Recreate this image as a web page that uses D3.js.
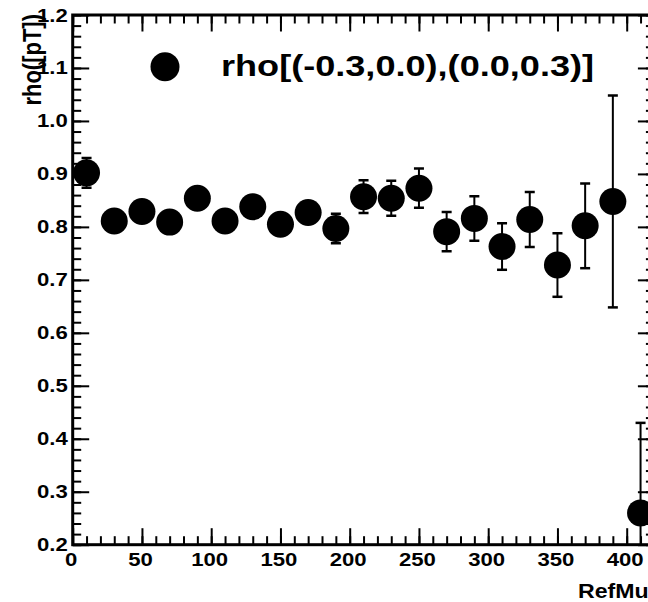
<!DOCTYPE html>
<html>
<head>
<meta charset="utf-8">
<script src="https://cdn.jsdelivr.net/npm/d3@7"></script>
<style>
  html, body { margin: 0; padding: 0; background: #fff; }
  svg { display: block; }
  text { font-family: "Liberation Sans", Arial, sans-serif; font-weight: bold; fill: #000; }
</style>
</head>
<body>
<div id="chart"></div>
<script>
// ---- data ----
const refMult = [10, 30, 50, 70, 90, 110, 130, 150, 170, 190, 210, 230, 250, 270, 290, 310, 330, 350, 370, 390, 410];
const rho     = [0.902, 0.811, 0.829, 0.809, 0.854, 0.811, 0.838, 0.805, 0.827, 0.797, 0.857, 0.854, 0.873, 0.791, 0.816, 0.763, 0.814, 0.728, 0.802, 0.848, 0.260];
const rhoErr  = [0.028, 0.020, 0.020, 0.020, 0.020, 0.020, 0.020, 0.020, 0.020, 0.028, 0.031, 0.033, 0.037, 0.037, 0.042, 0.044, 0.052, 0.060, 0.080, 0.200, 0.170];
const xTickLabels = [0, 50, 100, 150, 200, 250, 300, 350, 400];
const yTickLabels = [0.2, 0.3, 0.4, 0.5, 0.6, 0.7, 0.8, 0.9, 1.0, 1.1, 1.2];
const xMinorTicks = d3.range(0, 421, 10);
const yMinorTicks = d3.range(0, 51).map(i => 0.2 + i * 0.02);
const legendLabel = "rho[(-0.3,0.0),(0.0,0.3)]";
const xTitle = "RefMult";
const yTitle = "rho([pT])";

// ---- layout ----
const W = 648, H = 602;
const fL = 72.7, fR = 654.4, fT = 15, fB = 544.7;
const SX = 1.23; // horizontal stretch of text in the reference

const x = d3.scaleLinear().domain([0, 420]).range([fL, fR]);
const y = d3.scaleLinear().domain([0.2, 1.2]).range([fB, fT]);

const svg = d3.select("#chart").append("svg")
  .attr("width", W).attr("height", H);

svg.append("rect").attr("width", W).attr("height", H).attr("fill", "#fff");

svg.append("defs").append("clipPath").attr("id", "frameClip")
  .append("rect").attr("x", fL).attr("y", fT)
  .attr("width", fR - fL).attr("height", fB - fT);

// ---- axes (ticks only) ----
function styleAxis(g, width) {
  g.select(".domain").remove();
  g.selectAll(".tick line").attr("stroke", "#000").attr("stroke-width", width);
  g.selectAll(".tick text").remove();
}
const majorLen = 16.5, minorLen = 8.5;

// bottom
svg.append("g").attr("transform", `translate(0,${fB})`)
  .call(d3.axisBottom(x).tickValues(xMinorTicks).tickSize(-minorLen).tickFormat(""))
  .call(g => styleAxis(g, 2));
svg.append("g").attr("transform", `translate(0,${fB})`)
  .call(d3.axisBottom(x).tickValues(xTickLabels).tickSize(-majorLen).tickFormat(""))
  .call(g => styleAxis(g, 2));
// top
svg.append("g").attr("transform", `translate(0,${fT})`)
  .call(d3.axisTop(x).tickValues(xMinorTicks).tickSize(-minorLen).tickFormat(""))
  .call(g => styleAxis(g, 2));
svg.append("g").attr("transform", `translate(0,${fT})`)
  .call(d3.axisTop(x).tickValues(xTickLabels).tickSize(-majorLen).tickFormat(""))
  .call(g => styleAxis(g, 2));
// left
svg.append("g").attr("transform", `translate(${fL},0)`)
  .call(d3.axisLeft(y).tickValues(yMinorTicks).tickSize(-minorLen).tickFormat(""))
  .call(g => styleAxis(g, 2));
svg.append("g").attr("transform", `translate(${fL},0)`)
  .call(d3.axisLeft(y).tickValues(yTickLabels).tickSize(-majorLen).tickFormat(""))
  .call(g => styleAxis(g, 2));
// right
svg.append("g").attr("transform", `translate(${fR},0)`)
  .call(d3.axisRight(y).tickValues(yMinorTicks).tickSize(-minorLen).tickFormat(""))
  .call(g => styleAxis(g, 2));
svg.append("g").attr("transform", `translate(${fR},0)`)
  .call(d3.axisRight(y).tickValues(yTickLabels).tickSize(-majorLen).tickFormat(""))
  .call(g => styleAxis(g, 2));

// frame
svg.append("rect")
  .attr("x", fL).attr("y", fT)
  .attr("width", fR - fL).attr("height", fB - fT)
  .attr("fill", "none").attr("stroke", "#000").attr("stroke-width", 3);

// ---- tick labels ----
function stretchedText(parent, px, py, str, size, anchor, sx) {
  const g = parent.append("g").attr("transform", `translate(${px},${py}) scale(${sx},1)`);
  g.append("text").attr("x", 0).attr("y", 0)
    .attr("font-size", size).attr("text-anchor", anchor).text(str);
  return g;
}
const fmtY = d3.format(".1f");
yTickLabels.forEach(v => stretchedText(svg, fL - 5, y(v) + 6.5, fmtY(v), 18, "end", SX));
xTickLabels.forEach(v => stretchedText(svg, x(v) - 1.5, fB + 21, String(v), 18, "middle", SX));

// axis titles (x title runs past the right edge, as in the reference)
stretchedText(svg, 578, 598, xTitle, 20.5, "start", 1.13);
svg.append("g").attr("transform", `translate(41,14) scale(1.2,1) rotate(-90)`)
  .append("text").attr("font-size", 22).attr("text-anchor", "end").text(yTitle);

// ---- data ----
const pts = svg.append("g");
const bars = pts.append("g").attr("clip-path", "url(#frameClip)");
const capW = 5;
refMult.forEach((m, i) => {
  const cx = x(m), lo = y(rho[i] - rhoErr[i]), hi = y(rho[i] + rhoErr[i]);
  bars.append("line").attr("x1", cx).attr("x2", cx).attr("y1", lo).attr("y2", hi)
    .attr("stroke", "#000").attr("stroke-width", 2);
  [lo, hi].forEach(yy => bars.append("line")
    .attr("x1", cx - capW).attr("x2", cx + capW).attr("y1", yy).attr("y2", yy)
    .attr("stroke", "#000").attr("stroke-width", 2.5));
});
pts.selectAll("circle").data(refMult).join("circle")
  .attr("cx", d => x(d))
  .attr("cy", (d, i) => y(rho[i]))
  .attr("r", 13.5)
  .attr("fill", "#000");

// ---- legend ----
svg.append("circle").attr("cx", 165).attr("cy", 66.7).attr("r", 14.5).attr("fill", "#000");
stretchedText(svg, 221, 76, legendLabel, 29, "start", 1.245);
</script>
</body>
</html>
